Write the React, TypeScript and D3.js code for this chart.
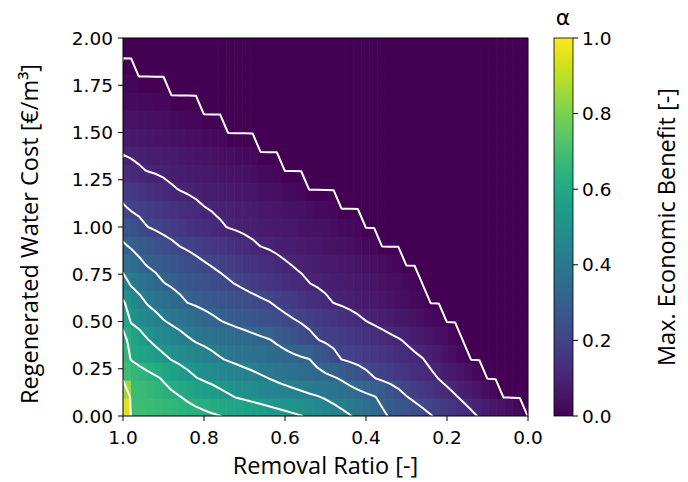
import React from "react";
import * as d3 from "d3";

// ---------- layout ----------
const PLOT = { left: 123, right: 528, top: 38, bottom: 416 };
const CBAR = { left: 554, width: 19 };

// ---------- axes / ticks ----------
const removalTicks = [1.0, 0.8, 0.6, 0.4, 0.2, 0.0];
const costTicks = [0, 0.25, 0.5, 0.75, 1.0, 1.25, 1.5, 1.75, 2.0];
const benefitTicks = [0, 0.2, 0.4, 0.6, 0.8, 1.0];
const contourLevels = [0.001, 0.1, 0.2, 0.3, 0.4, 0.5, 0.6, 0.7];

// ---------- data ----------
// Max. economic benefit. Each row = one regenerated water cost (0.0 .. 2.0 step 0.1),
// columns = removal ratio 1.00 -> 0.00 (step 0.02).
const z00 = [0.95,0.69,0.686,0.68,0.671,0.663,0.654,0.645,0.636,0.628,
  0.619,0.61,0.601,0.592,0.582,0.572,0.562,0.552,0.542,0.532,
  0.522,0.512,0.502,0.487,0.47,0.454,0.437,0.421,0.404,0.383,
  0.36,0.337,0.314,0.293,0.275,0.258,0.24,0.222,0.204,0.186,
  0.168,0.15,0.131,0.113,0.095,0.08,0.065,0.05,0.035,0.02,
  0];
const z01 = [0.85,0.68,0.676,0.661,0.647,0.632,0.617,0.603,0.588,0.572,
  0.557,0.542,0.526,0.511,0.497,0.488,0.479,0.47,0.46,0.451,
  0.442,0.433,0.424,0.414,0.405,0.393,0.379,0.364,0.349,0.335,
  0.32,0.305,0.283,0.256,0.229,0.203,0.186,0.17,0.154,0.138,
  0.122,0.106,0.089,0.072,0.054,0.037,0.02,0,0,0,
  0];
const z02 = [0.68,0.663,0.646,0.628,0.611,0.592,0.57,0.548,0.526,0.503,
  0.49,0.479,0.467,0.456,0.445,0.433,0.422,0.41,0.399,0.387,
  0.376,0.364,0.353,0.341,0.33,0.318,0.307,0.291,0.269,0.247,
  0.224,0.202,0.188,0.176,0.163,0.15,0.137,0.124,0.112,0.098,
  0.083,0.067,0.051,0.036,0.02,0,0,0,0,0,
  0];
const z03 = [0.655,0.596,0.576,0.556,0.536,0.516,0.497,0.482,0.466,0.451,
  0.435,0.42,0.405,0.394,0.384,0.375,0.366,0.356,0.347,0.338,
  0.329,0.319,0.31,0.301,0.276,0.25,0.224,0.199,0.189,0.18,
  0.17,0.16,0.151,0.141,0.131,0.122,0.112,0.102,0.087,0.071,
  0.054,0.037,0.02,0,0,0,0,0,0,0,
  0];
const z04 = [0.625,0.575,0.54,0.505,0.484,0.466,0.447,0.429,0.41,0.394,
  0.385,0.375,0.365,0.355,0.345,0.335,0.325,0.315,0.305,0.29,
  0.273,0.255,0.238,0.22,0.203,0.192,0.182,0.172,0.163,0.153,
  0.143,0.134,0.124,0.114,0.105,0.094,0.082,0.069,0.057,0.045,
  0.032,0.02,0,0,0,0,0,0,0,0,
  0];
const z05 = [0.58,0.493,0.472,0.45,0.428,0.405,0.389,0.375,0.36,0.346,
  0.332,0.317,0.303,0.292,0.281,0.271,0.26,0.249,0.239,0.228,
  0.218,0.207,0.196,0.185,0.173,0.161,0.149,0.137,0.125,0.113,
  0.101,0.092,0.083,0.074,0.065,0.056,0.047,0.038,0.029,0.02,
  0,0,0,0,0,0,0,0,0,0,
  0];
const z06 = [0.51,0.465,0.427,0.394,0.375,0.356,0.337,0.318,0.299,0.29,
  0.28,0.271,0.261,0.251,0.242,0.232,0.223,0.213,0.203,0.191,
  0.178,0.165,0.152,0.138,0.125,0.112,0.099,0.092,0.085,0.078,
  0.07,0.063,0.056,0.049,0.042,0.034,0.027,0.02,0,0,
  0,0,0,0,0,0,0,0,0,0,
  0];
const z07 = [0.44,0.39,0.368,0.347,0.325,0.303,0.291,0.278,0.267,0.255,
  0.243,0.232,0.22,0.208,0.197,0.186,0.175,0.164,0.154,0.143,
  0.132,0.121,0.11,0.101,0.094,0.087,0.081,0.075,0.069,0.063,
  0.057,0.051,0.045,0.038,0.032,0.026,0.02,0,0,0,
  0,0,0,0,0,0,0,0,0,0,
  0];
const z08 = [0.37,0.344,0.317,0.296,0.283,0.27,0.258,0.245,0.232,0.22,
  0.207,0.196,0.186,0.176,0.166,0.156,0.146,0.136,0.126,0.116,
  0.106,0.098,0.092,0.086,0.08,0.074,0.068,0.062,0.056,0.05,
  0.044,0.038,0.032,0.026,0.02,0,0,0,0,0,
  0,0,0,0,0,0,0,0,0,0,
  0];
const z09 = [0.31,0.292,0.276,0.261,0.245,0.23,0.215,0.199,0.189,0.179,
  0.169,0.159,0.149,0.139,0.129,0.119,0.109,0.099,0.094,0.088,
  0.082,0.077,0.071,0.065,0.06,0.054,0.048,0.043,0.037,0.031,
  0.026,0.02,0,0,0,0,0,0,0,0,
  0,0,0,0,0,0,0,0,0,0,
  0];
const z10 = [0.265,0.243,0.222,0.201,0.19,0.179,0.169,0.158,0.148,0.138,
  0.127,0.117,0.106,0.098,0.093,0.088,0.083,0.079,0.074,0.069,
  0.064,0.059,0.054,0.049,0.044,0.04,0.035,0.03,0.025,0.02,
  0,0,0,0,0,0,0,0,0,0,
  0,0,0,0,0,0,0,0,0,0,
  0];
const z11 = [0.21,0.192,0.182,0.172,0.163,0.152,0.142,0.132,0.122,0.112,
  0.102,0.096,0.091,0.086,0.081,0.076,0.071,0.066,0.061,0.056,
  0.05,0.045,0.04,0.035,0.03,0.025,0.02,0,0,0,
  0,0,0,0,0,0,0,0,0,0,
  0,0,0,0,0,0,0,0,0,0,
  0];
const z12 = [0.17,0.159,0.149,0.138,0.127,0.117,0.106,0.098,0.092,0.087,
  0.082,0.077,0.072,0.067,0.061,0.056,0.051,0.046,0.041,0.036,
  0.03,0.025,0.02,0,0,0,0,0,0,0,
  0,0,0,0,0,0,0,0,0,0,
  0,0,0,0,0,0,0,0,0,0,
  0];
const z13 = [0.125,0.116,0.106,0.098,0.094,0.089,0.084,0.079,0.074,0.069,
  0.064,0.059,0.054,0.049,0.045,0.04,0.035,0.03,0.025,0.02,
  0,0,0,0,0,0,0,0,0,0,
  0,0,0,0,0,0,0,0,0,0,
  0,0,0,0,0,0,0,0,0,0,
  0];
const z14 = [0.095,0.09,0.086,0.081,0.076,0.072,0.067,0.062,0.058,0.053,
  0.048,0.043,0.039,0.034,0.029,0.025,0.02,0,0,0,
  0,0,0,0,0,0,0,0,0,0,
  0,0,0,0,0,0,0,0,0,0,
  0,0,0,0,0,0,0,0,0,0,
  0];
const z15 = [0.07,0.066,0.062,0.058,0.053,0.049,0.045,0.041,0.037,0.033,
  0.028,0.024,0.02,0,0,0,0,0,0,0,
  0,0,0,0,0,0,0,0,0,0,
  0,0,0,0,0,0,0,0,0,0,
  0,0,0,0,0,0,0,0,0,0,
  0];
const z16 = [0.05,0.047,0.043,0.04,0.037,0.033,0.03,0.027,0.023,0.02,
  0,0,0,0,0,0,0,0,0,0,
  0,0,0,0,0,0,0,0,0,0,
  0,0,0,0,0,0,0,0,0,0,
  0,0,0,0,0,0,0,0,0,0,
  0];
const z17 = [0.03,0.028,0.026,0.024,0.022,0.02,0,0,0,0,
  0,0,0,0,0,0,0,0,0,0,
  0,0,0,0,0,0,0,0,0,0,
  0,0,0,0,0,0,0,0,0,0,
  0,0,0,0,0,0,0,0,0,0,
  0];
const z18 = [0.015,0.012,0,0,0,0,0,0,0,0,
  0,0,0,0,0,0,0,0,0,0,
  0,0,0,0,0,0,0,0,0,0,
  0,0,0,0,0,0,0,0,0,0,
  0,0,0,0,0,0,0,0,0,0,
  0];
const z19 = [0,0,0,0,0,0,0,0,0,0,
  0,0,0,0,0,0,0,0,0,0,
  0,0,0,0,0,0,0,0,0,0,
  0,0,0,0,0,0,0,0,0,0,
  0,0,0,0,0,0,0,0,0,0,
  0];
const z20 = [0,0,0,0,0,0,0,0,0,0,
  0,0,0,0,0,0,0,0,0,0,
  0,0,0,0,0,0,0,0,0,0,
  0,0,0,0,0,0,0,0,0,0,
  0,0,0,0,0,0,0,0,0,0,
  0];

const benefitRows = [z00, z01, z02, z03, z04, z05, z06, z07, z08, z09, z10,
  z11, z12, z13, z14, z15, z16, z17, z18, z19, z20];

const TICK_FONT = "'DejaVu Sans', sans-serif";
const LABEL_FONT = "'Open Sans', sans-serif";
const TICK_SIZE = 18.5;
const LABEL_SIZE = 23.5;

export default function App() {
  const nx = 51;
  const ny = benefitRows.length;

  const x = d3.scaleLinear().domain([1, 0]).range([PLOT.left, PLOT.right]);
  const y = d3.scaleLinear().domain([0, 2]).range([PLOT.bottom, PLOT.top]);
  const cb = d3.scaleLinear().domain([0, 1]).range([PLOT.bottom, PLOT.top]);
  const color = d3.scaleSequential(d3.interpolateViridis).domain([0, 1]);

  // grid coordinate (removal ratio / cost) of contour-space coordinates
  const gx = (c: number) => 1 - c / (nx - 1);
  const gy = (c: number) => (2 * c) / (ny - 1);

  const values: number[] = [];
  benefitRows.forEach((row) => {
    for (let i = 0; i < nx; i++) values.push(row[i] ?? 0);
  });

  const contours = d3.contours().size([nx, ny]).thresholds(contourLevels)(values);

  const toPath = (mp: any) =>
    mp.coordinates
      .map((poly: number[][][]) =>
        poly
          .map(
            (ring: number[][]) =>
              ring
                .map(
                  ([cx, cy]: number[], k: number) =>
                    `${k ? "L" : "M"}${x(gx(cx - 0.5)).toFixed(2)},${y(gy(cy - 0.5)).toFixed(2)}`
                )
                .join("") + "Z"
          )
          .join("")
      )
      .join("");

  const cells: JSX.Element[] = [];
  benefitRows.forEach((row, j) => {
    for (let i = 0; i < nx; i++) {
      const v = row[i] ?? 0;
      const xa = x(1 - i / nx);
      const xb = x(1 - (i + 1) / nx);
      const ya = y((2 * (j + 1)) / ny);
      const yb = y((2 * j) / ny);
      cells.push(
        <rect
          key={`c${j}-${i}`}
          x={xa}
          y={ya}
          width={xb - xa + 0.6}
          height={yb - ya + 0.6}
          fill={color(v)}
        />
      );
    }
  });

  const stops = d3.range(0, 1.0001, 0.05);
  const plotW = PLOT.right - PLOT.left;
  const plotH = PLOT.bottom - PLOT.top;

  return (
    <svg
      width={688}
      height={482}
      style={{ position: "absolute", left: 0, top: 0, background: "#fff" }}
    >
      <defs>
        <clipPath id="plotClip">
          <rect x={PLOT.left} y={PLOT.top} width={plotW} height={plotH} />
        </clipPath>
        <linearGradient id="viridisGrad" x1="0" y1="1" x2="0" y2="0">
          {stops.map((s) => (
            <stop key={s} offset={`${s * 100}%`} stopColor={color(s)} />
          ))}
        </linearGradient>
      </defs>

      <g clipPath="url(#plotClip)">
        {cells}
        {contours.map((c, k) => (
          <path
            key={`ct${k}`}
            d={toPath(c)}
            fill="none"
            stroke="#fff"
            strokeWidth={2}
            strokeLinejoin="round"
          />
        ))}
      </g>
      <rect
        x={PLOT.left}
        y={PLOT.top}
        width={plotW}
        height={plotH}
        fill="none"
        stroke="#000"
        strokeWidth={1}
      />

      {/* x axis */}
      {removalTicks.map((t) => (
        <g key={`xt${t}`}>
          <line x1={x(t)} x2={x(t)} y1={PLOT.bottom} y2={PLOT.bottom + 5} stroke="#000" strokeWidth={1} />
          <text
            x={x(t)}
            y={PLOT.bottom + 28}
            textAnchor="middle"
            fontFamily={TICK_FONT}
            fontSize={TICK_SIZE}
            fill="#000"
          >
            {t.toFixed(1)}
          </text>
        </g>
      ))}
      {/* y axis */}
      {costTicks.map((t) => (
        <g key={`yt${t}`}>
          <line x1={PLOT.left - 5} x2={PLOT.left} y1={y(t)} y2={y(t)} stroke="#000" strokeWidth={1} />
          <text
            x={PLOT.left - 10}
            y={y(t)}
            textAnchor="end"
            dominantBaseline="central"
            fontFamily={TICK_FONT}
            fontSize={TICK_SIZE}
            fill="#000"
          >
            {t.toFixed(2)}
          </text>
        </g>
      ))}

      <text
        x={(PLOT.left + PLOT.right) / 2}
        y={474}
        textAnchor="middle"
        fontFamily={LABEL_FONT}
        fontSize={LABEL_SIZE}
        fill="#000"
      >
        Removal Ratio [-]
      </text>
      <text
        transform={`translate(38,${(PLOT.top + PLOT.bottom) / 2 + 7}) rotate(-90)`}
        textAnchor="middle"
        fontFamily={LABEL_FONT}
        fontSize={LABEL_SIZE}
        fill="#000"
      >
        Regenerated Water Cost [€/m³]
      </text>

      {/* colorbar */}
      <rect
        x={CBAR.left}
        y={PLOT.top}
        width={CBAR.width}
        height={plotH}
        fill="url(#viridisGrad)"
        stroke="#000"
        strokeWidth={0.8}
      />
      {benefitTicks.map((t) => (
        <g key={`cb${t}`}>
          <line
            x1={CBAR.left + CBAR.width}
            x2={CBAR.left + CBAR.width + 5}
            y1={cb(t)}
            y2={cb(t)}
            stroke="#000"
            strokeWidth={1}
          />
          <text
            x={CBAR.left + CBAR.width + 9}
            y={cb(t)}
            dominantBaseline="central"
            fontFamily={TICK_FONT}
            fontSize={TICK_SIZE}
            fill="#000"
          >
            {t.toFixed(1)}
          </text>
        </g>
      ))}
      <text x={563} y={25} textAnchor="middle" fontFamily={TICK_FONT} fontSize={22} fill="#000">
        α
      </text>
      <text
        transform={`translate(675,${(PLOT.top + PLOT.bottom) / 2}) rotate(-90)`}
        textAnchor="middle"
        fontFamily={LABEL_FONT}
        fontSize={LABEL_SIZE}
        fill="#000"
      >
        Max. Economic Benefit [-]
      </text>
    </svg>
  );
}
